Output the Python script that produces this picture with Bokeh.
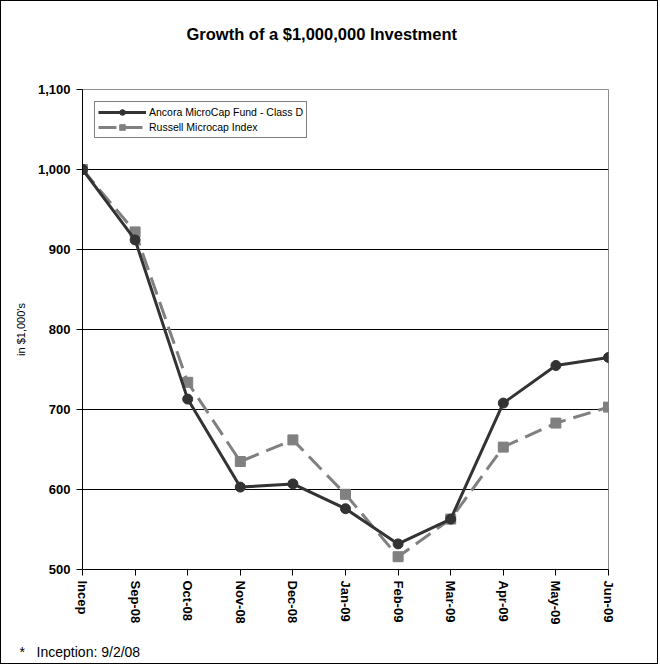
from bokeh.plotting import figure
from bokeh.models import (FixedTicker, NumeralTickFormatter, Legend, LegendItem,
                          Title, Range1d)
from bokeh.embed import file_html
from bokeh.resources import INLINE
import math

categories = ["Incep", "Sep-08", "Oct-08", "Nov-08", "Dec-08", "Jan-09",
              "Feb-09", "Mar-09", "Apr-09", "May-09", "Jun-09"]
fund_values = [1000, 912, 713, 603, 607, 576, 532, 563, 708, 755, 765]
russell_values = [1000, 922, 734, 635, 662, 594, 516, 563, 653, 683, 703]
y_ticks = [500, 600, 700, 800, 900, 1000, 1100]

x = list(range(len(categories)))
FONT = "Liberation Sans"

p = figure(width=658, height=664, output_backend="svg", toolbar_location=None,
           x_range=Range1d(0, len(categories) - 1), y_range=Range1d(500, 1100),
           min_border_left=81, min_border_right=51, min_border_top=88,
           min_border_bottom=96, title_location=None)
p.styles = {"border": "1px solid black", "box-sizing": "border-box"}
p.background_fill_color = "white"
p.border_fill_color = "white"
p.outline_line_color = "#8c8c8c"
p.outline_line_width = 1

# spacer between frame and title (added first -> closest to the frame)
spacer = Title(text="\u00a0", text_font_size="1px", standoff=42)
p.add_layout(spacer, "above")
main_title = Title(text="Growth of a $1,000,000 Investment", text_font=FONT,
                   text_font_style="bold", text_font_size="16.5px",
                   text_color="black", align="left", offset=104, standoff=0,
                   vertical_align="top")
p.add_layout(main_title, "above")

p.xgrid.visible = False
p.ygrid.ticker = FixedTicker(ticks=[600, 700, 800, 900, 1000])
p.ygrid.grid_line_color = "black"
p.ygrid.grid_line_width = 1

# y axis
p.yaxis.ticker = FixedTicker(ticks=y_ticks)
p.yaxis.formatter = NumeralTickFormatter(format="0,0")
p.yaxis.major_label_text_font = FONT
p.yaxis.major_label_text_font_style = "bold"
p.yaxis.major_label_text_font_size = "13px"
p.yaxis.major_label_text_color = "black"
p.yaxis.major_tick_out = 6
p.yaxis.major_tick_in = 0
p.yaxis.minor_tick_out = 0
p.yaxis.minor_tick_in = 0
p.yaxis.major_label_standoff = 6
p.yaxis.axis_line_color = "black"
p.yaxis.major_tick_line_color = "black"
p.yaxis.axis_label = "in $1,000's"
p.yaxis.axis_label_text_font = FONT
p.yaxis.axis_label_text_font_style = "normal"
p.yaxis.axis_label_text_font_size = "11px"
p.yaxis.axis_label_text_color = "black"
p.yaxis.axis_label_standoff = 8

# x axis
p.xaxis.ticker = FixedTicker(ticks=x)
p.xaxis.major_label_overrides = {i: c for i, c in zip(x, categories)}
p.xaxis.major_label_orientation = -math.pi / 2
p.xaxis.major_label_text_font = FONT
p.xaxis.major_label_text_font_style = "bold"
p.xaxis.major_label_text_font_size = "13px"
p.xaxis.major_label_text_color = "black"
p.xaxis.major_tick_out = 6
p.xaxis.major_tick_in = 0
p.xaxis.minor_tick_out = 0
p.xaxis.minor_tick_in = 0
p.xaxis.major_label_standoff = 5
p.xaxis.axis_line_color = "black"
p.xaxis.major_tick_line_color = "black"
p.xaxis.axis_label = "\u00a0"
p.xaxis.axis_label_text_font_size = "1px"
p.xaxis.axis_label_standoff = 4

# series
r_line = p.line(x, russell_values, line_color="#808080", line_width=3,
                line_dash="18 8")
r_mark = p.scatter(x, russell_values, marker="square", size=10,
                   fill_color="#808080", line_color="#808080")
f_line = p.line(x, fund_values, line_color="#333333", line_width=3)
f_mark = p.scatter(x, fund_values, marker="circle", size=10,
                   fill_color="#333333", line_color="#333333")

legend = Legend(items=[
    LegendItem(label="Ancora MicroCap Fund - Class D", renderers=[f_line, f_mark]),
    LegendItem(label="Russell Microcap Index", renderers=[r_line, r_mark]),
], location="top_left")
legend.margin = 12
legend.padding = 3
legend.spacing = 1
legend.glyph_width = 48
legend.glyph_height = 14
legend.label_height = 14
legend.label_standoff = 3
legend.label_text_font = FONT
legend.label_text_font_size = "10.5px"
legend.label_text_color = "black"
legend.border_line_color = "black"
legend.border_line_width = 1
legend.background_fill_alpha = 1
p.add_layout(legend, "center")

foot = Title(text="*\u00a0\u00a0\u00a0Inception:\u00a09/2/08", align="left",
             offset=-63, standoff=12, text_font=FONT, text_font_style="normal",
             text_font_size="14px", text_color="black")
p.add_layout(foot, "below")

open("out.html", "w").write(file_html(p, INLINE))
